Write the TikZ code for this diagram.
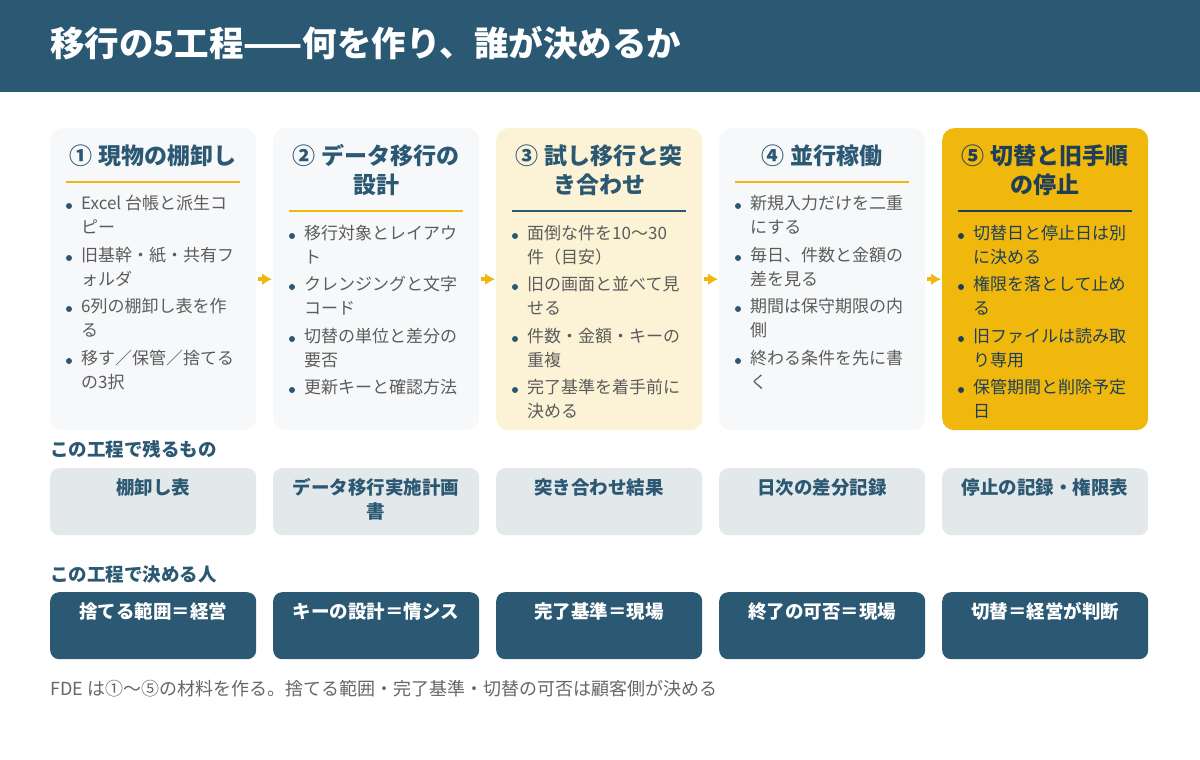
\documentclass[tikz,border=0pt]{standalone}
\usepackage{fontspec}
\setmainfont{Noto Sans CJK JP}
\usetikzlibrary{arrows.meta}

\definecolor{navy}{HTML}{2B5872}
\definecolor{deepnavy}{HTML}{1F3F58}
\definecolor{gold}{HTML}{F0B80C}
\definecolor{cream}{HTML}{FCF2D6}
\definecolor{paper}{HTML}{F6F8FA}
\definecolor{mist}{HTML}{E3E8EB}
\definecolor{ink}{HTML}{5C5C5C}
\definecolor{notegray}{HTML}{666666}

\tikzset{
  card/.style={anchor=north west, rounded corners=12pt, minimum width=206pt, minimum height=302pt, inner sep=0pt},
  cardtitle/.style={anchor=base, align=center, inner sep=0pt, text=navy, font=\fontsize{23}{29}\selectfont\bfseries},
  titlerule/.style={gold, line width=2pt},
  bulletdot/.style={fill=navy},
  itemtext/.style={anchor=base west, align=left, inner sep=0pt, text=ink, font=\fontsize{17}{24}\selectfont},
  flow/.style={->, gold, line width=4pt, shorten <=2pt, shorten >=1pt},
  section/.style={anchor=base west, inner sep=0pt, text=navy, font=\fontsize{18.5}{24}\selectfont\bfseries},
  outbox/.style={anchor=north west, rounded corners=9pt, fill=mist, minimum width=206pt, minimum height=67pt, inner sep=0pt},
  outtext/.style={anchor=base, align=center, inner sep=0pt, text=navy, font=\fontsize{18.5}{24}\selectfont\bfseries},
  whobox/.style={outbox, fill=navy},
  whotext/.style={outtext, text=white}
}

% one bullet: [extra lines], name, left edge of card, first baseline, text
\newcommand{\bulletitem}[5][1]{%
  \fill[bulletdot] (#3+19,#4-3) circle (3pt);
  \node[itemtext] (#2) at (#3+31,#4+24*#1) {#5};}

\begin{document}
\begin{tikzpicture}[x=1pt,y=-1pt,>={Latex[length=10pt,width=12pt]}]
\useasboundingbox (0,0) rectangle (1200,760);

% header band
\fill[navy] (0,0) rectangle (1200,92);
\node[anchor=base west, inner sep=0pt, text=white, font=\fontsize{34.5}{40}\selectfont\bfseries] (heading) at (50,57) {移行の5工程——何を作り、誰が決めるか};

% the five steps
\node[card, fill=paper] (c1) at (50,128) {};
\node[card, fill=paper] (c2) at (273,128) {};
\node[card, fill=cream] (c3) at (496,128) {};
\node[card, fill=paper] (c4) at (719,128) {};
\node[card, fill=gold] (c5) at (942,128) {};

\draw[flow] (c1.east) -- (c2.west);
\draw[flow] (c2.east) -- (c3.west);
\draw[flow] (c3.east) -- (c4.west);
\draw[flow] (c4.east) -- (c5.west);

% step 1
\node[cardtitle] (t1) at (153,164) {① 現物の棚卸し};
\draw[titlerule] (66,182) -- (240,182);
\bulletitem{s1a}{50}{209}{Excel 台帳と派生コ\\ピー}
\bulletitem{s1b}{50}{261}{旧基幹・紙・共有フ\\ォルダ}
\bulletitem{s1c}{50}{312}{6列の棚卸し表を作\\る}
\bulletitem{s1d}{50}{364}{移す／保管／捨てる\\の3択}

% step 2
\node[cardtitle] (t2) at (376,193) {② データ移行の\\設計};
\draw[titlerule] (289,211) -- (463,211);
\bulletitem{s2a}{273}{239}{移行対象とレイアウ\\ト}
\bulletitem{s2b}{273}{290}{クレンジングと文字\\コード}
\bulletitem{s2c}{273}{342}{切替の単位と差分の\\要否}
\bulletitem[0]{s2d}{273}{393}{更新キーと確認方法}

% step 3
\node[cardtitle] (t3) at (599,193) {③ 試し移行と突\\き合わせ};
\draw[titlerule, navy] (512,211) -- (686,211);
\bulletitem{s3a}{496}{239}{面倒な件を10〜30\\件（目安）}
\bulletitem{s3b}{496}{290}{旧の画面と並べて見\\せる}
\bulletitem{s3c}{496}{342}{件数・金額・キーの\\重複}
\bulletitem{s3d}{496}{393}{完了基準を着手前に\\決める}

% step 4
\node[cardtitle] (t4) at (822,164) {④ 並行稼働};
\draw[titlerule] (735,182) -- (909,182);
\bulletitem{s4a}{719}{209}{新規入力だけを二重\\にする}
\bulletitem{s4b}{719}{261}{毎日、件数と金額の\\差を見る}
\bulletitem{s4c}{719}{312}{期間は保守期限の内\\側}
\bulletitem{s4d}{719}{364}{終わる条件を先に書\\く}

% step 5
\begin{scope}[cardtitle/.append style={text=deepnavy}, itemtext/.append style={text=deepnavy}, bulletdot/.style={fill=deepnavy}]
\node[cardtitle] (t5) at (1045,193) {⑤ 切替と旧手順\\の停止};
\draw[titlerule, deepnavy] (958,211) -- (1132,211);
\bulletitem{s5a}{942}{239}{切替日と停止日は別\\に決める}
\bulletitem{s5b}{942}{290}{権限を落として止め\\る}
\bulletitem{s5c}{942}{342}{旧ファイルは読み取\\り専用}
\bulletitem{s5d}{942}{393}{保管期間と削除予定\\日}
\end{scope}

% what remains
\node[section] (keep) at (50,456) {この工程で残るもの};
\node[outbox] (o1) at (50,468) {};
\node[outbox] (o2) at (273,468) {};
\node[outbox] (o3) at (496,468) {};
\node[outbox] (o4) at (719,468) {};
\node[outbox] (o5) at (942,468) {};
\node[outtext] (r1) at (153,494) {棚卸し表};
\node[outtext] (r2) at (376,518) {データ移行実施計画\\書};
\node[outtext] (r3) at (599,494) {突き合わせ結果};
\node[outtext] (r4) at (822,494) {日次の差分記録};
\node[outtext] (r5) at (1045,494) {停止の記録・権限表};

% who decides
\node[section] (decide) at (50,581) {この工程で決める人};
\node[whobox] (w1) at (50,592) {};
\node[whobox] (w2) at (273,592) {};
\node[whobox] (w3) at (496,592) {};
\node[whobox] (w4) at (719,592) {};
\node[whobox] (w5) at (942,592) {};
\node[whotext] (p1) at (153,618) {捨てる範囲＝経営};
\node[whotext] (p2) at (376,618) {キーの設計＝情シス};
\node[whotext] (p3) at (599,618) {完了基準＝現場};
\node[whotext] (p4) at (822,618) {終了の可否＝現場};
\node[whotext] (p5) at (1045,618) {切替＝経営が判断};

% footnote
\node[anchor=base west, inner sep=0pt, text=notegray, font=\fontsize{18}{24}\selectfont] (fde) at (50,695) {FDE は①〜⑤の材料を作る。捨てる範囲・完了基準・切替の可否は顧客側が決める};
\end{tikzpicture}
\end{document}
